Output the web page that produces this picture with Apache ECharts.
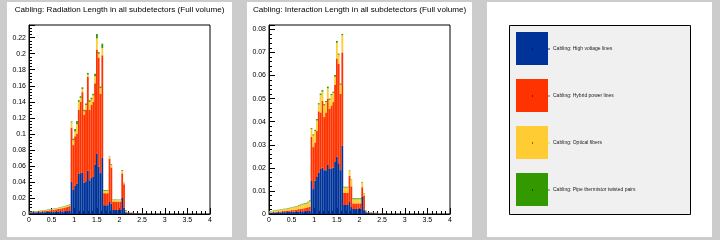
<!DOCTYPE html>
<html><head><meta charset="utf-8">
<script src="https://cdn.jsdelivr.net/npm/echarts@6/dist/echarts.min.js"></script>
<style>html,body{margin:0;padding:0;background:#cccccc}#c{width:720px;height:240px}</style>
</head><body><div id="c"></div><script>
// eta bins (lower edges), width 0.04, 0..4
var bins = ["0.00","0.04","0.08","0.12","0.16","0.20","0.24","0.28","0.32","0.36","0.40","0.44","0.48","0.52","0.56","0.60","0.64","0.68","0.72","0.76","0.80","0.84","0.88","0.92","0.96","1.00","1.04","1.08","1.12","1.16","1.20","1.24","1.28","1.32","1.36","1.40","1.44","1.48","1.52","1.56","1.60","1.64","1.68","1.72","1.76","1.80","1.84","1.88","1.92","1.96","2.00","2.04","2.08","2.12","2.16","2.20","2.24","2.28","2.32","2.36","2.40","2.44","2.48","2.52","2.56","2.60","2.64","2.68","2.72","2.76","2.80","2.84","2.88","2.92","2.96","3.00","3.04","3.08","3.12","3.16","3.20","3.24","3.28","3.32","3.36","3.40","3.44","3.48","3.52","3.56","3.60","3.64","3.68","3.72","3.76","3.80","3.84","3.88","3.92","3.96"];
var seriesNames = ["Cabling: High voltage lines","Cabling: Hybrid power lines","Cabling: Optical fibers","Cabling: Pipe thermistor twisted pairs"];
var seriesColors = ["#003399","#ff3300","#ffcc33","#339900"];
var titles = ["Cabling: Radiation Length in all subdetectors (Full volume)","Cabling: Interaction Length in all subdetectors (Full volume)"];

// Radiation length (per-layer values)
var radBlue = [.0020,.0020,.0020,.0020,.0021,.0021,.0022,.0022,.0023,.0024,.0025,.0026,.0027,.0028,.0029,.0030,.0031,.0032,.0033,.0034,.0035,.0036,.0038,
 .040,.030,.035,.038,.050,.051,.052,.039,.041,.054,.042,.045,.047,.061,.0757,.059,.051,.070,
 .011,.011,.011,.015,.013,.005,.005,.005,.005,.005,.020,.008,.002,
 .001,.001,.001,.001,.0008,.0008,.0008,.0005,.0005,.0005,.0005,.0005];
var radRed = [.0003,.0004,.0005,.0006,.0007,.0009,.0010,.0012,.0013,.0015,.0017,.0019,.0021,.0024,.0027,.0030,.0033,.0036,.0040,.0044,.0049,.0054,.0060,
 .0677,.056,.062,.062,.080,.089,.100,.085,.089,.117,.088,.091,.093,.102,.1293,.136,.099,.128,
 .015,.015,.015,.054,.045,.0105,.0105,.0105,.0105,.0105,.0307,.029,.001,
 .0008,.0008,.0005,.0005,.0003,.0003,.0003,.0002,.0002,.0002,.0001,.0001];
var radYellow = [.0003,.0003,.0004,.0004,.0004,.0004,.0005,.0006,.0007,.0007,.0008,.0008,.0010,.0010,.0010,.0011,.0012,.0013,.0014,.0015,.0016,.0017,.0020,
 .0067,.006,.006,.012,.010,.005,.004,.004,.006,.003,.010,.007,.008,.009,.014,.005,.007,.009,
 .003,.003,.003,.002,.003,.002,.002,.002,.002,.002,.003,.0015,.001,
 .0002,.0002,.0002,.0002,.0001,.0001,.0001,.0001,.0001,.0001,.0001,.0001];
var radGreen = [.0004,.0004,.0005,.0005,.0005,.0005,.0005,.0005,.0005,.0005,.0005,.0005,.0005,.0005,.0005,.0005,.0005,.0005,.0005,.0005,.0005,.0006,.0007,
 .0011,.002,.003,.004,.002,.002,.002,.002,.002,.002,.002,.002,.002,.003,.0056,.002,.002,.0055,
 .001,.001,.001,.0006,.001,.0005,.0005,.0005,.0005,.0005,.001,.0005,.001,
 .0002,.0002,.0002,.0002,.0001,.0001,.0001,.0001,.0001,.0001,0,0];

// Interaction length (per-layer values)
var intBlue = [.0006,.0006,.0006,.0006,.0007,.0007,.0007,.0008,.0008,.0008,.0009,.0009,.0009,.0010,.0010,.0010,.0011,.0011,.0012,.0012,.0012,.0013,.0014,
 .0143,.0108,.0145,.0160,.0180,.0195,.0200,.0190,.0190,.0215,.0195,.0198,.0200,.0225,.0248,.0220,.0190,.0297,
 .0039,.0039,.0039,.0055,.0030,.0022,.0022,.0022,.0022,.0022,.0074,.0020,.0008,
 .0004,.0004,.0004,.0003,.0003,.0003,.0002,.0002,.0002,.0002,.0001,.0001];
var intRed = [.0001,.0001,.0002,.0002,.0003,.0003,.0004,.0004,.0005,.0005,.0006,.0006,.0007,.0007,.0008,.0009,.0010,.0011,.0012,.0013,.0014,.0016,.0018,
 .0192,.0182,.0165,.0200,.0265,.0245,.0290,.0230,.0250,.0285,.0260,.0272,.0285,.0335,.0426,.0430,.0330,.0403,
 .0053,.0053,.0053,.0110,.0090,.0024,.0024,.0024,.0024,.0024,.0042,.0060,.0004,
 .0002,.0002,.0002,.0002,.0001,.0001,.0001,.0001,.0001,.0001,.0001,.0001];
var intYellow = [.0005,.0005,.0005,.0006,.0006,.0006,.0007,.0007,.0008,.0008,.0009,.0010,.0011,.0012,.0013,.0014,.0015,.0016,.0017,.0018,.0019,.0021,.0023,
 .0033,.0050,.0050,.0045,.0030,.0076,.0040,.0050,.0045,.0045,.0040,.0045,.0040,.0035,.0068,.0040,.0040,.0075,
 .0023,.0023,.0023,.0023,.0028,.0018,.0018,.0018,.0018,.0018,.0020,.0008,.0002,
 .0001,.0001,.0001,.0001,.0001,.0001,.0001,.0001,0,0,0,0];
var intGreen = [.0001,.0001,.0002,.0002,.0002,.0002,.0002,.0002,.0002,.0002,.0002,.0002,.0002,.0002,.0002,.0002,.0003,.0003,.0003,.0003,.0003,.0003,.0004,
 .0004,.0005,.0005,.0007,.0005,.0006,.0007,.0006,.0005,.0007,.0005,.0005,.0005,.0007,.0008,.0005,.0005,.0005,
 .0003,.0003,.0003,.0002,.0002,.0004,.0004,.0004,.0004,.0004,.0003,.0002,.0002,
 .0001,.0001,.0001,.0001,.0001,.0001,0,0,0,0,0,0];

var yMax = [0.2358, 0.0819];
var yInterval = [0.02, 0.01];

var FONT = "Liberation Sans";
var chart = echarts.init(document.getElementById('c'), null, {renderer:'canvas'});

function valueX(g){
  return {type:'value', gridIndex:g, min:0, max:4, interval:0.5, position:'bottom',
    axisLine:{show:true, lineStyle:{color:'#000', width:1}},
    axisTick:{show:true, inside:true, length:6, lineStyle:{color:'#000'}},
    minorTick:{show:true, splitNumber:5, length:3, lineStyle:{color:'#000'}},
    splitLine:{show:false},
    axisLabel:{fontSize:7, color:'#000', margin:3, fontFamily:FONT}};
}
function valueY(g){
  return {type:'value', gridIndex:g, min:0, max:yMax[g], interval:yInterval[g],
    axisLine:{show:true, lineStyle:{color:'#000', width:1}},
    axisTick:{show:true, inside:true, length:6, lineStyle:{color:'#000'}},
    minorTick:{show:true, splitNumber:5, length:3, lineStyle:{color:'#000'}},
    splitLine:{show:false},
    axisLabel:{fontSize:7, color:'#000', margin:3, fontFamily:FONT, showMaxLabel:false}};
}
function barSeries(name, color, data, g, stack){
  return {type:'bar', name:name, xAxisIndex:g*2, yAxisIndex:g, stack:stack, data:data,
    barWidth:'100%', barCategoryGap:'0%', itemStyle:{color:color}, silent:true};
}

var radData = [radBlue, radRed, radYellow, radGreen];
var intData = [intBlue, intRed, intYellow, intGreen];
var series = [];
for (var k=0;k<4;k++) series.push(barSeries(seriesNames[k], seriesColors[k], radData[k], 0, 'rad'));
for (var k=0;k<4;k++) series.push(barSeries(seriesNames[k], seriesColors[k], intData[k], 1, 'int'));

var graphics = [
  {type:'rect', z:-10, shape:{x:7, y:2, width:225, height:235}, style:{fill:'#ffffff'}},
  {type:'rect', z:-10, shape:{x:247, y:2, width:225, height:235}, style:{fill:'#ffffff'}},
  {type:'rect', z:-10, shape:{x:487, y:2, width:225, height:235}, style:{fill:'#ffffff'}},
  {type:'rect', z:-9, shape:{x:509.5, y:25.5, width:181, height:189}, style:{fill:'#f0f0f0', stroke:'#000', lineWidth:1}}
];
for (var k=0;k<4;k++){
  graphics.push({type:'rect', z:100, shape:{x:532, y:48.5+k*47, width:1, height:1}, style:{fill:'#000'}});
  graphics.push({type:'rect', z:100, shape:{x:548, y:48.5+k*47, width:2, height:1}, style:{fill:seriesColors[k]}});
}

chart.setOption({
  animation:false,
  backgroundColor:'#cccccc',
  textStyle:{fontFamily:FONT},
  graphic:graphics,
  title:[
    {text:titles[0], left:119.5, top:6, padding:0, textAlign:'center', textStyle:{fontSize:8.1, fontWeight:'normal', color:'#000', fontFamily:FONT}},
    {text:titles[1], left:359.5, top:6, padding:0, textAlign:'center', textStyle:{fontSize:8.1, fontWeight:'normal', color:'#000', fontFamily:FONT}}
  ],
  legend:{orient:'vertical', left:516, top:32, padding:0, itemWidth:32, itemHeight:33, itemGap:14, icon:'rect',
    selectedMode:false, data:seriesNames, textStyle:{fontSize:5, color:'#222', fontFamily:FONT}},
  grid:[
    {left:29, top:25, width:181, height:189, show:true, borderColor:'#000', borderWidth:1, backgroundColor:'transparent'},
    {left:269, top:25, width:181, height:189, show:true, borderColor:'#000', borderWidth:1, backgroundColor:'transparent'}
  ],
  xAxis:[
    {type:'category', gridIndex:0, data:bins, show:false},
    valueX(0),
    {type:'category', gridIndex:1, data:bins, show:false},
    valueX(1)
  ],
  yAxis:[valueY(0), valueY(1)],
  series:series
});
</script></body></html>
